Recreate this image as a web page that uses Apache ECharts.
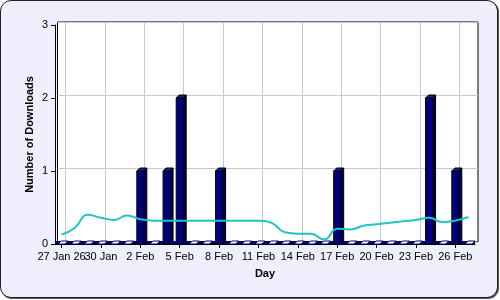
<!DOCTYPE html>
<html>
<head>
<meta charset="utf-8">
<script src="https://cdn.jsdelivr.net/npm/echarts@6/dist/echarts.min.js"></script>
<style>
html,body{margin:0;padding:0;background:#fff;}
#frame{position:absolute;left:0;top:0;width:496px;height:296px;border:1px solid #222;border-radius:11px;background:#eeeefd;box-shadow:1px 1px 0 #555;overflow:hidden;}
#chart{position:absolute;left:-1px;top:-1px;width:500px;height:300px;}
</style>
</head>
<body>
<div id="frame"><div id="chart"></div></div>
<script>
const days = ['27 Jan 26','28 Jan','29 Jan','30 Jan','31 Jan','1 Feb','2 Feb','3 Feb','4 Feb','5 Feb','6 Feb','7 Feb','8 Feb','9 Feb','10 Feb','11 Feb','12 Feb','13 Feb','14 Feb','15 Feb','16 Feb','17 Feb','18 Feb','19 Feb','20 Feb','21 Feb','22 Feb','23 Feb','24 Feb','25 Feb','26 Feb','27 Feb'];
const downloads = [0,0,0,0,0,0,1,0,1,2,0,0,1,0,0,0,0,0,0,0,0,1,0,0,0,0,0,0,2,0,1,0];
const trend = [0.13,0.22,0.40,0.36,0.33,0.39,0.34,0.32,0.32,0.32,0.32,0.32,0.32,0.32,0.32,0.32,0.29,0.16,0.14,0.14,0.06,0.21,0.20,0.25,0.27,0.29,0.31,0.33,0.36,0.30,0.32,0.37];
const yTicks = [0,1,2,3];

const font = 'Liberation Sans, Arial, sans-serif';
const BAR_W = 7, DEPTH = 3;

function renderBar3D(params, api) {
  const v = api.value(1);
  const top = api.coord([api.value(0), v]);
  const base = api.coord([api.value(0), 0]);
  const xl = top[0] - BAR_W / 2, xr = top[0] + BAR_W / 2;
  const yt = top[1], yb = base[1];
  const children = [];
  if (v > 0) {
    children.push({type:'rect', shape:{x:xl, y:yt, width:BAR_W, height:yb - yt},
      style:{fill:'#000080', stroke:'#000', lineWidth:1}});
    children.push({type:'polygon', shape:{points:[[xr,yt],[xr+DEPTH,yt-DEPTH],[xr+DEPTH,yb-DEPTH],[xr,yb]]},
      style:{fill:'#000050', stroke:'#000', lineWidth:1}});
    children.push({type:'polygon', shape:{points:[[xl,yt],[xl+DEPTH,yt-DEPTH],[xr+DEPTH,yt-DEPTH],[xr,yt]]},
      style:{fill:'#1a1a9a', stroke:'#000', lineWidth:1}});
  } else {
    children.push({type:'polygon', shape:{points:[[xl,yb],[xl+DEPTH,yb-DEPTH],[xr+DEPTH,yb-DEPTH],[xr,yb]]},
      style:{fill:'#fff', stroke:'#000066', lineWidth:1}});
  }
  return {type:'group', children};
}

const labelStyle = {color:'#000', fontSize:11, fontFamily:font, margin:7};
const chart = echarts.init(document.getElementById('chart'), null, {renderer:'canvas'});
chart.setOption({
  animation:false,
  backgroundColor:'transparent',
  grid:[
    {left:57.5, right:22, top:22, bottom:58, show:true, backgroundColor:'#fff', borderColor:'#000', borderWidth:1},
    {left:65.5, right:40.75, top:22, bottom:58, show:false},
    {left:55, right:25, top:25, bottom:56, show:false}
  ],
  xAxis:[
    {gridIndex:0, type:'category', data:days, show:false},
    {gridIndex:1, type:'value', min:0, max:30, interval:3, axisLine:{show:false}, axisTick:{show:false}, axisLabel:{show:false},
      splitLine:{show:true, lineStyle:{color:'#c8c8c8', width:1}}},
    {gridIndex:2, type:'category', data:days, boundaryGap:true, position:'bottom',
      axisLine:{show:true, lineStyle:{color:'#000', width:1}},
      axisTick:{show:true, interval:2, alignWithLabel:true, length:4, lineStyle:{color:'#000'}},
      axisLabel:Object.assign({interval:(i)=> i > 0 && i % 3 === 0}, labelStyle),
      splitLine:{show:false},
      name:'Day', nameLocation:'middle', nameGap:24, nameMoveOverlap:false,
      nameTextStyle:{fontWeight:'bold', fontSize:11, fontFamily:font, color:'#000'}},
    {gridIndex:2, type:'category', data:days, boundaryGap:true, position:'bottom', offset:0,
      axisLine:{show:false}, axisTick:{show:false}, splitLine:{show:false},
      axisLabel:Object.assign({interval:(i)=> i === 0}, labelStyle)}
  ],
  yAxis:[
    {gridIndex:0, type:'value', min:0, max:3, interval:1, axisLine:{show:false}, axisTick:{show:false}, axisLabel:{show:false},
      splitLine:{show:true, lineStyle:{color:'#c8c8c8', width:1}}},
    {gridIndex:1, type:'value', min:0, max:3, show:false, splitLine:{show:false}},
    {gridIndex:2, type:'value', min:yTicks[0], max:yTicks[yTicks.length-1], interval:1,
      axisLine:{show:true, lineStyle:{color:'#000', width:1}},
      axisTick:{show:true, length:4, lineStyle:{color:'#000'}},
      axisLabel:{color:'#000', fontSize:11, fontFamily:font, margin:7},
      splitLine:{show:false},
      name:'Number of Downloads', nameLocation:'middle', nameGap:20, nameRotate:90, nameMoveOverlap:false,
      nameTextStyle:{fontWeight:'bold', fontSize:11, fontFamily:font, color:'#000'}}
  ],
  series:[
    {type:'custom', xAxisIndex:2, yAxisIndex:2, z:3,
      data:downloads.map((v,i)=>[i,v]), encode:{x:0, y:1},
      renderItem:renderBar3D,
      markArea:{silent:true, z:1, itemStyle:{color:'#000066'}, label:{show:false}, data:[[{yAxis:0},{yAxis:0.04}]]}
    },
    {type:'line', xAxisIndex:2, yAxisIndex:2, data:trend, smooth:true, showSymbol:false, z:4,
      lineStyle:{color:'#1fc4c4', width:2}}
  ]
});
</script>
</body>
</html>
